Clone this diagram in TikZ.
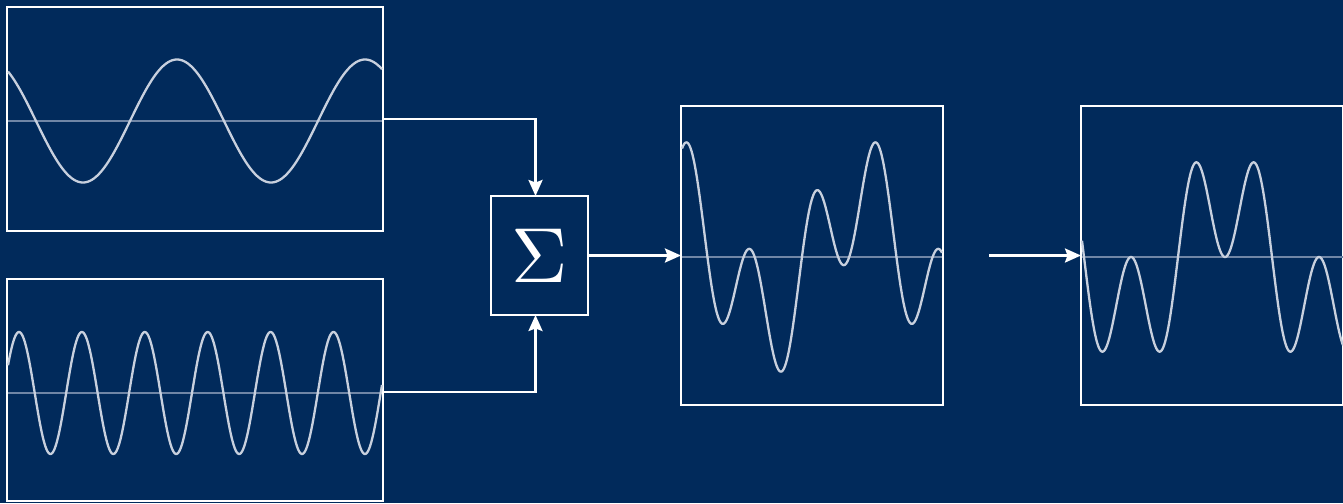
\documentclass[tikz,border=0pt]{standalone}
\usetikzlibrary{arrows.meta}
\definecolor{bgblue}{RGB}{1,42,91}
\definecolor{wavecol}{RGB}{200,208,222}
\definecolor{axiscol}{RGB}{112,134,166}
\tikzset{
  panel/.style={draw=white, line width=2.8pt, inner sep=0pt, outer sep=0pt},
  sumbox/.style={draw=white, line width=2.8pt, inner sep=0pt, outer sep=0pt, text=white},
  wave/.style={draw=wavecol, line width=2.3pt, line join=round},
  axisline/.style={draw=axiscol, line width=2pt},
  conn/.style={draw=white, line width=2.5pt, -{Stealth[length=16pt,width=14pt,inset=2.5pt]}}
}
\begin{document}
\begin{tikzpicture}[x=1pt,y=-1pt]
\fill[bgblue] (0,0) rectangle (1343,503);
\useasboundingbox (0,0) rectangle (1343,503);
% panels
\node[panel, minimum width=376pt, minimum height=224pt] (b1) at (195,119) {};
\node[panel, minimum width=376pt, minimum height=222pt] (b2) at (195,390) {};
\node[sumbox, minimum width=97pt, minimum height=119pt] (sig) at (539.5,255.5) {\scalebox{7.8}{$\Sigma$}};
\node[panel, minimum width=262pt, minimum height=299pt] (b3) at (812,255.5) {};
\node[panel, minimum width=262pt, minimum height=299pt] (b4) at (1212,255.5) {};
\coordinate (a4) at (989,255.5);
% axes
\draw[axisline] (8,121) -- (382,121);
\draw[axisline] (8,393) -- (382,393);
\draw[axisline] (682,257) -- (942,257);
\draw[axisline] (1082,257) -- (1343,257);
% waves
\draw[wave] plot[domain=8:382, samples=300, smooth] (\x, {121-61.5*cos(1.91489*(\x-177))});
\draw[wave] plot[domain=8:382, samples=400, smooth] (\x, {393-61*cos(5.7234*(\x-19))});
\draw[wave] plot[domain=682:942, samples=400, smooth] (\x, {257-61.5*(cos(1.90476*(\x-671.3))+cos(5.71429*(\x-688)))});
\draw[wave] plot[domain=1082:1343, samples=400, smooth] (\x, {257-61.5*(cos(1.91489*(\x-1225))-cos(5.74468*(\x-1225)))});
% connectors
\draw[conn] (b1.east) -| ([xshift=-4pt]sig.north);
\draw[conn] ([yshift=-2pt]b2.east) -| ([xshift=-4pt]sig.south);
\draw[conn] (sig.east) -- (b3.west);
\draw[conn] (a4) -- (b4.west);
\end{tikzpicture}
\end{document}
